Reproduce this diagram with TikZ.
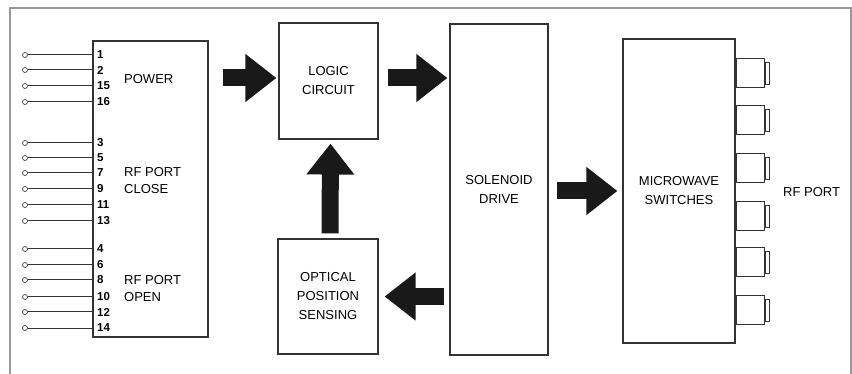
\documentclass[tikz,border=0pt]{standalone}
\usepackage{fontspec}
\setmainfont{Liberation Sans}
\usetikzlibrary{arrows.meta,positioning}

\begin{document}
\begin{tikzpicture}[
    x=1pt,y=-1pt,
    box/.style={rectangle,draw=black!80,line width=1.1pt,inner sep=0pt,align=center,
                font=\fontsize{13}{19}\selectfont},
    label/.style={align=left,anchor=west,inner sep=0pt,font=\fontsize{13}{17}\selectfont},
    pinnum/.style={anchor=west,inner sep=0pt,font=\fontsize{11.5}{12}\selectfont\bfseries},
    pinend/.style={circle,draw=black!75,fill=white,line width=0.7pt,inner sep=0pt,minimum size=5pt},
    wire/.style={draw=black!80,line width=1pt},
    port/.style={rectangle,draw=black!80,line width=1pt,inner sep=0pt,
                 minimum width=28pt,minimum height=29pt,anchor=west},
    tab/.style={rectangle,draw=black!80,line width=0.8pt,inner sep=0pt,
                minimum width=4pt,minimum height=22pt,anchor=west},
    bigarrow/.style={-{Triangle[width=46pt,length=31pt]},line width=17pt,draw=black!90,fill=black!90},
    frame/.style={draw=black!40,line width=1.5pt}
]
\useasboundingbox (0,0) rectangle (852,374);
\draw[frame] (10,374) -- (10,8) -- (851,8) -- (851,374);

% blocks
\node[box,minimum width=115pt,minimum height=296pt] (power) at (150.5,189) {};
\node[box,minimum width=99pt,minimum height=116pt] (logic) at (328.5,81) {LOGIC\\CIRCUIT};
\node[box,minimum width=100pt,minimum height=115pt] (optical) at (328,296.5) {OPTICAL\\POSITION\\SENSING};
\node[box,minimum width=98pt,minimum height=331pt] (solenoid) at (499,189.5) {SOLENOID\\DRIVE};
\node[box,minimum width=112pt,minimum height=304pt] (micro) at (679,191) {MICROWAVE\\SWITCHES};

% connector pins
\foreach \n/\y in {1/55,2/70,15/86,16/102,3/143,5/158,7/173,9/189,
                   11/205,13/221,4/249,6/265,8/280,10/297,12/312,14/328}{
  \node[pinend] (pin\n) at (25,\y) {};
  \draw[wire] (pin\n) -- (power.west |- pin\n);
  \node[pinnum] (num\n) at (97,\y) {\n};
}
\node[label] (lpower) at (124,79) {POWER};
\node[label] (lclose) at (124,181) {RF PORT\\CLOSE};
\node[label] (lopen) at (124,288.5) {RF PORT\\OPEN};

% rf ports
\foreach \i/\y in {1/73.5,2/120,3/168,4/216,5/262,6/310}{
  \node[port] (port\i) at (micro.east |- 0,\y) {};
  \node[tab] (tab\i) at (port\i.east) {};
}
\node[label] (lrf) at (783,192) {RF PORT};

% block arrows
\draw[bigarrow,shorten <=14pt,shorten >=2pt] ([yshift=3pt]power.east |- logic.west) -- ([yshift=3pt]logic.west);
\draw[bigarrow,shorten <=9pt,shorten >=2pt] ([yshift=3pt]logic.east) -- ([yshift=3pt]logic.east -| solenoid.west);
\draw[bigarrow,shorten <=8pt,shorten >=5pt] (solenoid.east |- micro.west) -- (micro.west);
\draw[bigarrow,shorten <=5pt,shorten >=6pt] (solenoid.west |- optical.east) -- (optical.east);
\draw[bigarrow,shorten <=5pt,shorten >=4pt] ([xshift=2pt]optical.north) -- ([xshift=2pt]logic.south);
\end{tikzpicture}
\end{document}
